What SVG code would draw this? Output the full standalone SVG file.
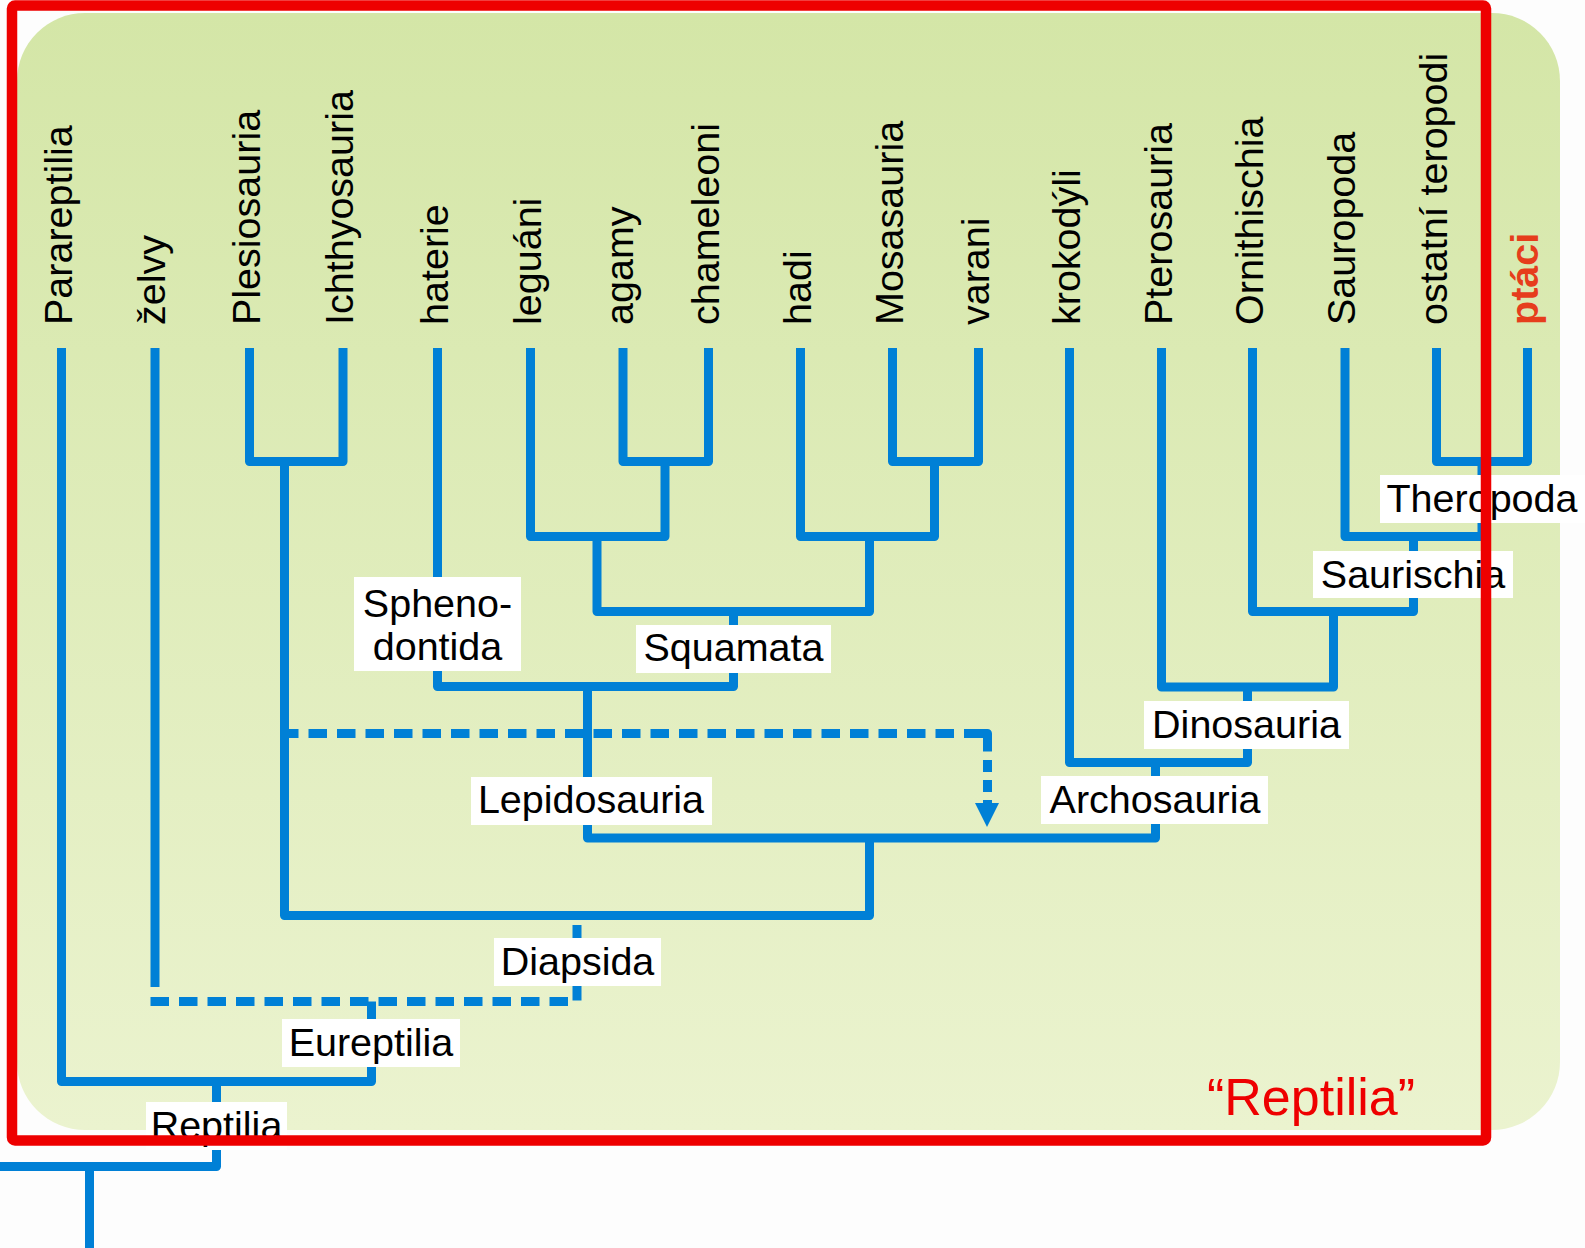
<svg xmlns="http://www.w3.org/2000/svg" width="1585" height="1248" viewBox="0 0 1585 1248">
<defs>
<linearGradient id="bg" x1="0" y1="0" x2="0" y2="1">
<stop offset="0" stop-color="#d4e6a7"/>
<stop offset="1" stop-color="#ebf3cf"/>
</linearGradient>
<style>
.ln{fill:none;stroke:#0080d6;stroke-width:9;stroke-linejoin:round;stroke-linecap:butt}
.dash{stroke-dasharray:18.5 10}
.vdash{stroke-dasharray:12 8}
.tx{font-family:"Liberation Sans",Arial,sans-serif;font-size:39.5px;fill:#000}
.mid{text-anchor:middle}
.box{fill:#ffffff}
</style>
</defs>
<rect x="0" y="0" width="1585" height="1248" fill="#fdfdfd"/>
<rect id="panel" x="17" y="13" width="1543" height="1117" rx="68" ry="68" fill="url(#bg)"/>

<g id="connectors">
<path class="ln" d="M61.5,348 V1081.5 H371.5 V1001.5"/>
<path class="ln" d="M216.5,1081.5 V1166.5 H0"/>
<path class="ln" d="M89.5,1166.5 V1248"/>
<path class="ln" d="M155,348 V987"/>
<path class="ln dash" d="M150.5,1001.5 H577 V915.5"/>
<path class="ln" d="M249.5,348 V461.5 H343 V348"/>
<path class="ln" d="M284.5,461.5 V915.5 H869.5 V838"/>
<path class="ln" d="M587.5,686.5 V838 H1155.5 V762.5"/>
<path class="ln" d="M437.5,348 V686.5 H733.5 V611.5"/>
<path class="ln" d="M597,536.5 V611.5 H869.5 V536.5"/>
<path class="ln" d="M530.5,348 V536.5 H665 V461.5"/>
<path class="ln" d="M623,348 V461.5 H708.5 V348"/>
<path class="ln" d="M800.5,348 V536.5 H934.5 V461.5"/>
<path class="ln" d="M892.5,348 V461.5 H978.5 V348"/>
<path class="ln" d="M1069.5,348 V762.5 H1247.5 V687"/>
<path class="ln" d="M1161.5,348 V687 H1333.5 V611.5"/>
<path class="ln" d="M1252.5,348 V611.5 H1413.5 V536.5"/>
<path class="ln" d="M1345,348 V536.5 H1482 V461.5"/>
<path class="ln" d="M1436.5,348 V461.5 H1527.5 V348"/>
<path class="ln dash" d="M280,733.5 H965"/>
<path class="ln" d="M965,733.5 H987.5 V751.5"/>
<path class="ln vdash" d="M987.5,760 V805"/>
<polygon points="975,803 999,803 987,827" fill="#0080d6"/>
</g>

<g id="taxa" class="tx">
<text transform="translate(71.5,325) rotate(-90)">Parareptilia</text>
<text transform="translate(165,325) rotate(-90)">želvy</text>
<text transform="translate(259.5,325) rotate(-90)">Plesiosauria</text>
<text transform="translate(353,325) rotate(-90)">Ichthyosauria</text>
<text transform="translate(447.5,325) rotate(-90)">haterie</text>
<text transform="translate(540.5,325) rotate(-90)">leguáni</text>
<text transform="translate(633,325) rotate(-90)">agamy</text>
<text transform="translate(718.5,325) rotate(-90)">chameleoni</text>
<text transform="translate(810.5,325) rotate(-90)">hadi</text>
<text transform="translate(902.5,325) rotate(-90)">Mosasauria</text>
<text transform="translate(988.5,325) rotate(-90)">varani</text>
<text transform="translate(1079.5,325) rotate(-90)">krokodýli</text>
<text transform="translate(1171.5,325) rotate(-90)">Pterosauria</text>
<text transform="translate(1262.5,325) rotate(-90)">Ornithischia</text>
<text transform="translate(1355,325) rotate(-90)">Sauropoda</text>
<text transform="translate(1446.5,325) rotate(-90)">ostatní teropodi</text>
<text transform="translate(1537.5,325) rotate(-90)" style="fill:#e63d1c;font-weight:bold">ptáci</text>
</g>

<g id="node-sphenodontida">
<rect class="box" x="354" y="577" width="167" height="94"/>
<text class="tx mid" x="437.5" y="617">Spheno-</text>
<text class="tx mid" x="437.5" y="660">dontida</text>
</g>
<g id="node-squamata">
<rect class="box" x="636" y="625" width="195" height="48"/>
<text class="tx mid" x="733.5" y="661">Squamata</text>
</g>
<g id="node-lepidosauria">
<rect class="box" x="471" y="777" width="241" height="48"/>
<text class="tx mid" x="591" y="813">Lepidosauria</text>
</g>
<g id="node-archosauria">
<rect class="box" x="1041" y="776" width="227" height="48"/>
<text class="tx mid" x="1155" y="813">Archosauria</text>
</g>
<g id="node-dinosauria">
<rect class="box" x="1144" y="701" width="205" height="48"/>
<text class="tx mid" x="1246.5" y="738">Dinosauria</text>
</g>
<g id="node-saurischia">
<rect class="box" x="1313" y="551" width="200" height="47"/>
<text class="tx mid" x="1413" y="588">Saurischia</text>
</g>
<g id="node-theropoda">
<rect class="box" x="1380" y="475" width="205" height="48"/>
<text class="tx mid" x="1482" y="512">Theropoda</text>
</g>
<g id="node-diapsida">
<rect class="box" x="494" y="938" width="167" height="48"/>
<text class="tx mid" x="577.5" y="975">Diapsida</text>
</g>
<g id="node-eureptilia">
<rect class="box" x="282" y="1019" width="178" height="48"/>
<text class="tx mid" x="371" y="1056">Eureptilia</text>
</g>
<g id="node-reptilia">
<rect class="box" x="146" y="1102" width="141" height="48"/>
<text class="tx mid" x="216.5" y="1139">Reptilia</text>
</g>

<g id="reptilia-frame">
<rect x="12" y="5.5" width="1474" height="1135" rx="3" ry="3" fill="none" stroke="#ee0000" stroke-width="10.5"/>
<text x="1311" y="1115" text-anchor="middle" style="font-family:'Liberation Sans',Arial,sans-serif;font-size:52px;fill:#ee0000">“Reptilia”</text>
</g>
</svg>
